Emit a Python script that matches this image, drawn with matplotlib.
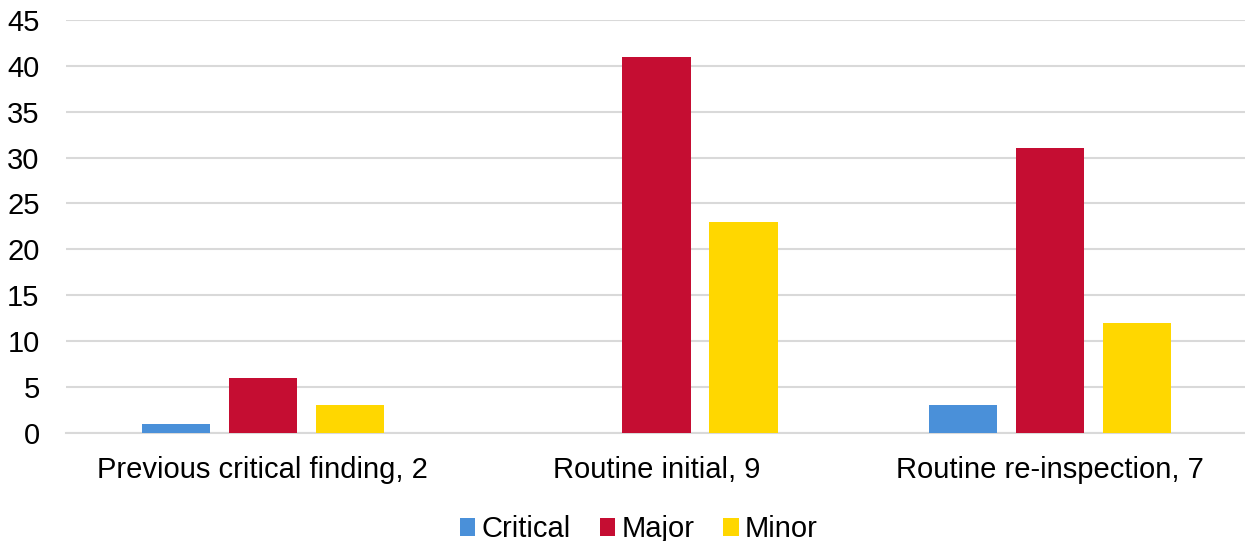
import numpy as np
import matplotlib.pyplot as plt

plt.rcParams['font.family'] = ['Liberation Sans', 'DejaVu Sans']

categories = ['Previous critical finding, 2', 'Routine initial, 9', 'Routine re-inspection, 7']
series = ['Critical', 'Major', 'Minor']
critical = [1, 0, 3]
major = [6, 41, 31]
minor = [3, 23, 12]
colors = ['#4A90D9', '#C50D32', '#FFD700']

fig = plt.figure(figsize=(12.45, 5.41), dpi=100)
ax = fig.add_axes([0.053, 0.2, 0.9486, 0.763])

x = np.arange(len(categories))
w = 0.173
step = 0.221
for i, (vals, name) in enumerate(zip([critical, major, minor], series)):
    ax.bar(x + (i - 1) * step, vals, width=w, color=colors[i], label=name, zorder=3)

ax.set_xlim(-0.5, 2.5)
ax.set_ylim(0, 45)
ax.set_yticks(np.arange(0, 46, 5))
ax.set_xticks(x)
ax.set_xticklabels(categories)
ax.grid(axis='y', color='#D9D9D9', linewidth=1.5, zorder=0)
ax.set_axisbelow(True)
for s in ['top', 'right', 'left']:
    ax.spines[s].set_visible(False)
ax.spines['bottom'].set_color('#D9D9D9')
ax.spines['bottom'].set_linewidth(1.5)
ax.tick_params(axis='both', length=0, labelsize=21, colors='black')
ax.tick_params(axis='x', pad=17)
ax.tick_params(axis='y', pad=19)

ax.legend(loc='upper center', bbox_to_anchor=(0.485, -0.186), ncol=3, frameon=False,
          fontsize=21, handlelength=0.54, handleheight=0.54, handletextpad=0.2,
          columnspacing=1.0, borderaxespad=0.0, borderpad=0.2)

fig.savefig('out.png', dpi=100)
